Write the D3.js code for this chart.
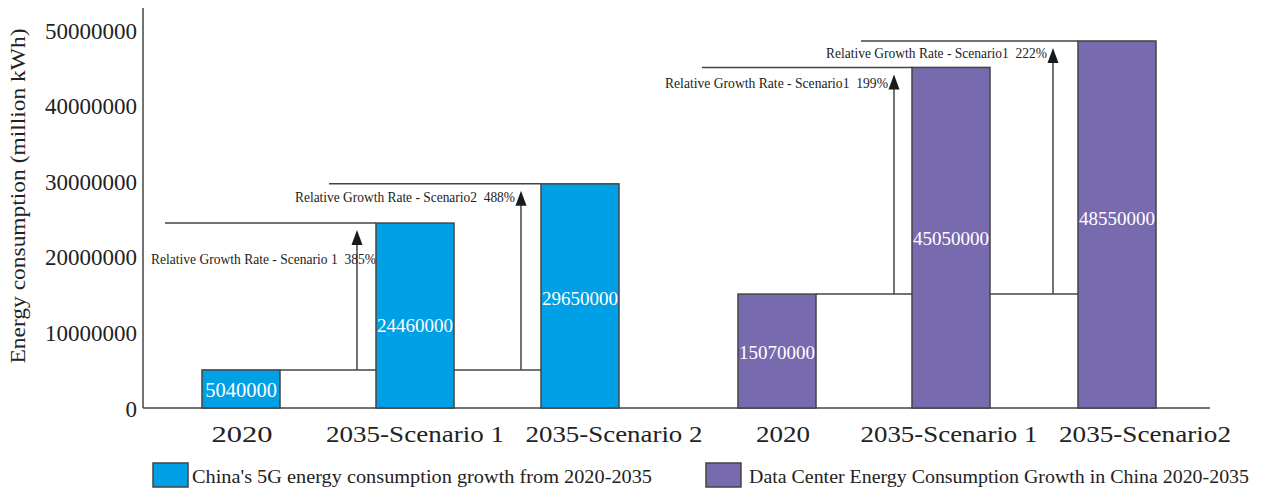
<!DOCTYPE html>
<html>
<head>
<meta charset="utf-8">
<script src="https://cdn.jsdelivr.net/npm/d3@7/dist/d3.min.js"></script>
<style>
  html, body { margin: 0; padding: 0; background: #fff; }
  svg { display: block; }
  svg text { font-family: "Liberation Serif", "Times New Roman", serif; }
  .pre { white-space: pre; }
</style>
</head>
<body>
<svg id="chart" width="1264" height="490"></svg>
<script>
// Category labels along the x axis (two groups of three)
const categories = ["2020", "2035-Scenario 1", "2035-Scenario 2", "2020", "2035-Scenario 1", "2035-Scenario2"];
// Energy consumption, million kWh
const series5G = [5040000, 24460000, 29650000];
const seriesDC = [15070000, 45050000, 48550000];
const seriesNames = [
  "China's 5G energy consumption growth from 2020-2035",
  "Data Center Energy Consumption Growth in China 2020-2035"
];
const growthLabels = [
  "Relative Growth Rate - Scenario 1  385%",
  "Relative Growth Rate - Scenario2  488%",
  "Relative Growth Rate - Scenario1  199%",
  "Relative Growth Rate - Scenario1  222%"
];
const yTicks = [0, 10000000, 20000000, 30000000, 40000000, 50000000];
const yTitle = "Energy consumption (million kWh)";

const colors = ["#00a0e6", "#786aae"];
const stroke = "#444";
const serif = "Liberation Serif";

const svg = d3.select("#chart");

// flat list of bars
const bars = [];
[series5G, seriesDC].forEach((vals, s) => {
  vals.forEach((v, k) => bars.push({ i: s * 3 + k, s, k, value: v, cat: categories[s * 3 + k] }));
});

// scales
const y = d3.scaleLinear().domain([0, 50000000]).range([408, 30]);
const barW = 78;
const xBar = d3.scaleOrdinal().domain(d3.range(6)).range([202, 376, 541, 738, 912, 1078]);
const xLab = d3.scaleOrdinal().domain(d3.range(6)).range([242, 415, 614, 783, 949, 1145]);
const axisX = 143;

// y axis
const yAxis = d3.axisLeft(y).tickValues(yTicks).tickSize(0).tickPadding(6).tickFormat(d3.format("d"));
const gy = svg.append("g").attr("transform", `translate(${axisX},0)`).call(yAxis);
gy.attr("font-family", serif);
gy.select(".domain").remove();
gy.selectAll("text")
  .attr("font-family", serif)
  .attr("font-size", 23)
  .attr("fill", "#222")
  .attr("dy", "0.35em");

svg.append("line")
  .attr("x1", axisX).attr("x2", axisX)
  .attr("y1", y(0)).attr("y2", y.range()[1] - 22)
  .attr("stroke", stroke).attr("stroke-width", 1.5);

svg.append("line")
  .attr("x1", axisX).attr("x2", 1210)
  .attr("y1", y(0)).attr("y2", y(0))
  .attr("stroke", stroke).attr("stroke-width", 1.5);

// y title
svg.append("text")
  .attr("transform", `translate(25,${196}) rotate(-90)`)
  .attr("text-anchor", "middle")
  .attr("font-family", serif)
  .attr("font-size", 22)
  .attr("fill", "#222")
  .attr("textLength", 335)
  .attr("lengthAdjust", "spacingAndGlyphs")
  .text(yTitle);

// growth annotations: reference line at the 2020 level, arrow up to each 2035 scenario
const annoLayout = [
  { arrowGap: 19, dx: 19, dy: 36, w: 225 },
  { arrowGap: 20, dx: -6, dy: 13, w: 220 },
  { arrowGap: 18, dx: -6, dy: 16, w: 223 },
  { arrowGap: 25, dx: -6, dy: 12, w: 221 }
];
const lineG = svg.append("g");
[series5G, seriesDC].forEach((vals, s) => {
  const i0 = s * 3;
  // 2020 level carried across the group
  lineG.append("line")
    .attr("x1", xBar(i0) + barW).attr("x2", xBar(i0 + 2))
    .attr("y1", y(vals[0])).attr("y2", y(vals[0]))
    .attr("stroke", stroke).attr("stroke-width", 1.5);
  [1, 2].forEach(k => {
    const a = s * 2 + (k - 1);
    const L = annoLayout[a];
    const ax = xBar(i0 + k) - L.arrowGap;
    const ty = y(vals[k]);
    // level of the scenario bar, extended to the left
    lineG.append("line")
      .attr("x1", ax - 192).attr("x2", xBar(i0 + k))
      .attr("y1", ty).attr("y2", ty)
      .attr("stroke", stroke).attr("stroke-width", 1.5);
    const tip = ty + 7;
    lineG.append("line")
      .attr("x1", ax).attr("x2", ax)
      .attr("y1", y(vals[0])).attr("y2", tip + 10)
      .attr("stroke", stroke).attr("stroke-width", 1.5);
    lineG.append("path")
      .attr("d", `M${ax},${tip} L${ax - 5.5},${tip + 15} L${ax + 5.5},${tip + 15} Z`)
      .attr("fill", "#1a1a1a");
    lineG.append("text")
      .attr("class", "pre")
      .attr("x", ax + L.dx)
      .attr("y", ty + L.dy)
      .attr("dy", "0.35em")
      .attr("text-anchor", "end")
      .attr("font-family", serif)
      .attr("font-size", 14)
      .attr("fill", "#222")
      .attr("textLength", L.w)
      .attr("lengthAdjust", "spacingAndGlyphs")
      .text(growthLabels[a]);
  });
});

// bars
svg.append("g").selectAll("rect").data(bars).join("rect")
  .attr("x", d => xBar(d.i))
  .attr("y", d => y(d.value))
  .attr("width", barW)
  .attr("height", d => y(0) - y(d.value))
  .attr("fill", d => colors[d.s])
  .attr("stroke", stroke)
  .attr("stroke-width", 1.5);

// value labels inside bars
const labelShift = [1, 10, 2, 1, 1, -6];
svg.append("g").selectAll("text").data(bars).join("text")
  .attr("x", d => xBar(d.i) + barW / 2)
  .attr("y", d => (y(d.value) + y(0)) / 2 + labelShift[d.i])
  .attr("dy", "0.35em")
  .attr("text-anchor", "middle")
  .attr("font-family", serif)
  .attr("font-size", d => String(d.value).length > 7 ? 19 : 20.5)
  .attr("fill", "#fff")
  .text(d => d.value);

// category labels
const catWidths = [61, 178, 177, 54, 177, 172];
svg.append("g").selectAll("text").data(bars).join("text")
  .attr("x", d => xLab(d.i))
  .attr("y", 442)
  .attr("text-anchor", "middle")
  .attr("font-family", serif)
  .attr("font-size", 23)
  .attr("fill", "#222")
  .attr("textLength", d => catWidths[d.i])
  .attr("lengthAdjust", "spacingAndGlyphs")
  .text(d => d.cat);

// legend
const legend = [
  { x: 153, tx: 192, w: 460 },
  { x: 706, tx: 749, w: 500 }
];
legend.forEach((L, s) => {
  svg.append("rect")
    .attr("x", L.x).attr("y", 463)
    .attr("width", 35).attr("height", 24)
    .attr("fill", colors[s])
    .attr("stroke", stroke).attr("stroke-width", 1.5);
  svg.append("text")
    .attr("x", L.tx).attr("y", 483)
    .attr("font-family", serif)
    .attr("font-size", 19.5)
    .attr("fill", "#222")
    .attr("textLength", L.w)
    .attr("lengthAdjust", "spacingAndGlyphs")
    .text(seriesNames[s]);
});
</script>
</body>
</html>
